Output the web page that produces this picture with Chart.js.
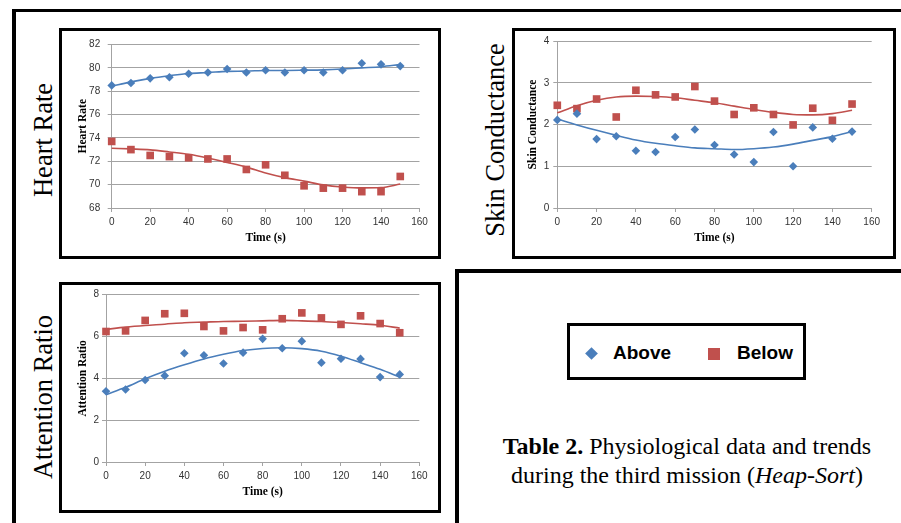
<!DOCTYPE html>
<html>
<head>
<meta charset="utf-8">
<title>Physiological data and trends</title>
<script src="https://cdn.jsdelivr.net/npm/chart.js@4.4.1/dist/chart.umd.min.js"></script>
<style>
body { margin: 0; width: 901px; height: 523px; overflow: hidden; background: #fff; position: relative; font-family: 'Liberation Serif', serif; color: #000; }
.frame { position: absolute; left: 12px; top: 9px; width: 1000px; height: 600px; border-top: 3px solid #000; border-left: 4px solid #000; }
.divider { position: absolute; left: 455px; top: 269px; width: 600px; height: 400px; border-top: 4px solid #000; border-left: 4px solid #000; }
.box { position: absolute; border: 3px solid #000; box-sizing: border-box; background: #fff; }
.box canvas { display: block; }
.side { position: absolute; font-size: 26.5px; line-height: 1; white-space: nowrap; transform: translate(-50%, -50%) rotate(-90deg); }
.legend { position: absolute; left: 567px; top: 323px; width: 239px; height: 57px; border: 3px solid #000; box-sizing: border-box; }
.lab { position: absolute; font-family: 'Liberation Sans', sans-serif; font-weight: bold; font-size: 19px; line-height: 19px; white-space: nowrap; }
.diamond { position: absolute; width: 9px; height: 9px; background: #4a7ebb; transform: rotate(45deg); }
.square { position: absolute; width: 12px; height: 12px; background: #c0504d; }
.caption { position: absolute; left: 687px; top: 432px; transform: translateX(-50%); font-size: 24px; line-height: 29px; text-align: center; white-space: nowrap; }
</style>
</head>
<body>

<div class="frame"></div>
<div class="divider"></div>

<div class="side" style="left:43px; top:140px;">Heart Rate</div>
<div class="side" style="left:495px; top:140px;">Skin Conductance</div>
<div class="side" style="left:43px; top:397px;">Attention Ratio</div>

<div class="box" style="left:59px; top:28px; width:382px; height:231px;"><canvas id="hr-chart" width="376" height="225"></canvas></div>
<div class="box" style="left:512px; top:28px; width:384px; height:231px;"><canvas id="skin-chart" width="378" height="225"></canvas></div>
<div class="box" style="left:59px; top:282px; width:382px; height:231px;"><canvas id="att-chart" width="376" height="225"></canvas></div>

<div class="legend"></div>
<div class="diamond" style="left:587px; top:348.5px;"></div>
<div class="lab" style="left:613px; top:343px;">Above</div>
<div class="square" style="left:707.5px; top:347.5px;"></div>
<div class="lab" style="left:737px; top:343px;">Below</div>

<div class="caption"><b>Table 2.</b> Physiological data and trends<br>during the third mission (<i>Heap-Sort</i>)</div>

<script>
'use strict';

const BLUE = '#4a7ebb';
const RED = '#c0504d';
const GRID = '#a3a3a3';

// time in seconds, one reading every 10 s
const time = [0, 10, 20, 30, 40, 50, 60, 70, 80, 90, 100, 110, 120, 130, 140, 150];

// heart rate
const hrAbove = [78.5, 78.7, 79.1, 79.2, 79.5, 79.6, 79.9, 79.6, 79.8, 79.6, 79.8, 79.6, 79.8, 80.4, 80.3, 80.15];
const hrBelow = [73.7, 73.0, 72.5, 72.4, 72.3, 72.2, 72.2, 71.3, 71.7, 70.8, 69.9, 69.7, 69.7, 69.4, 69.4, 70.7];
const hrAboveTrend = [78.43, 78.8, 79.1, 79.33, 79.52, 79.6, 79.7, 79.72, 79.78, 79.78, 79.8, 79.83, 79.9, 80.0, 80.1, 80.28];
const hrBelowTrend = [73.12, 73.06, 72.98, 72.8, 72.6, 72.28, 71.9, 71.5, 71.0, 70.6, 70.3, 69.98, 69.8, 69.72, 69.75, 70.05];

// skin conductance
const scAbove = [2.11, 2.26, 1.65, 1.72, 1.37, 1.34, 1.70, 1.88, 1.51, 1.28, 1.10, 1.82, 1.00, 1.93, 1.66, 1.83];
const scBelow = [2.46, 2.38, 2.61, 2.18, 2.82, 2.71, 2.66, 2.91, 2.56, 2.24, 2.40, 2.24, 1.99, 2.39, 2.10, 2.49];
const scAboveTrend = [2.13, 1.99, 1.86, 1.74, 1.63, 1.55, 1.49, 1.44, 1.42, 1.40, 1.42, 1.46, 1.53, 1.62, 1.71, 1.83];
const scBelowTrend = [2.28, 2.45, 2.58, 2.66, 2.68, 2.67, 2.64, 2.58, 2.52, 2.44, 2.36, 2.29, 2.24, 2.23, 2.26, 2.34];

// attention ratio
const arAbove = [3.38, 3.47, 3.92, 4.13, 5.20, 5.10, 4.71, 5.23, 5.89, 5.44, 5.78, 4.75, 4.94, 4.93, 4.06, 4.19];
const arBelow = [6.24, 6.27, 6.77, 7.09, 7.11, 6.48, 6.27, 6.43, 6.32, 6.85, 7.13, 6.89, 6.58, 6.99, 6.62, 6.18];
const arAboveTrend = [3.22, 3.57, 3.98, 4.34, 4.65, 4.93, 5.15, 5.33, 5.43, 5.46, 5.42, 5.30, 5.06, 4.75, 4.43, 4.05];
const arBelowTrend = [6.34, 6.45, 6.53, 6.59, 6.66, 6.69, 6.72, 6.73, 6.75, 6.77, 6.75, 6.72, 6.67, 6.61, 6.54, 6.40];


Chart.defaults.font.family = "'Liberation Sans', sans-serif";
Chart.defaults.animation = false;


function points(values) {
    return values.map((v, i) => ({ x: time[i], y: v }));
}

function markers(values, color, style, radius) {
    return {
	data: points(values),
	showLine: false,
	clip: false,
	pointStyle: style,
	pointRadius: radius,
	pointBackgroundColor: color,
	pointBorderColor: color,
	pointBorderWidth: 0,
    };
}

function trend(values, color) {
    return {
	data: points(values),
	showLine: true,
	clip: false,
	pointRadius: 0,
	borderColor: color,
	borderWidth: 1.6,
	cubicInterpolationMode: 'monotone',
	fill: false,
    };
}

// box = fixed sizes so the plot area sits where it does in the figure
function makeConfig(yTitle, y, box, above, below, aboveTrend, belowTrend) {
    const titleFont = { family: "'Liberation Serif', serif", weight: 'bold', size: 11.5 };
    return {
	type: 'scatter',
	data: {
	    datasets: [
		markers(above, BLUE, 'rectRot', 4.3),
		markers(below, RED, 'rect', 5.4),
		trend(aboveTrend, BLUE),
		trend(belowTrend, RED),
	    ],
	},
	options: {
	    responsive: false,
	    devicePixelRatio: 1,
	    events: [],
	    layout: { padding: { top: box.top, right: box.right, left: 0, bottom: 0 } },
	    plugins: {
		legend: { display: false },
		tooltip: { enabled: false },
	    },
	    scales: {
		x: {
		    type: 'linear',
		    min: 0,
		    max: 160,
		    ticks: { stepSize: 20, padding: 4, color: '#333', font: { size: 10 } },
		    grid: { drawOnChartArea: false, tickLength: 4, color: GRID },
		    border: { color: GRID },
		    title: { display: true, text: 'Time (s)', color: '#000', font: titleFont, padding: { top: 0, bottom: 11 } },
		    afterFit: s => { s.height = 48; },
		},
		y: {
		    min: y.min,
		    max: y.max,
		    ticks: { stepSize: y.step, padding: box.tickPad, color: '#333', font: { size: 10 } },
		    grid: { tickLength: 4, color: GRID },
		    border: { color: GRID },
		    title: { display: true, text: yTitle, color: '#000', font: titleFont, padding: { top: box.titlePad, bottom: 0 } },
		    afterFit: s => { s.width = box.yWidth; },
		},
	    },
	},
    };
}


const hrChart = new Chart(document.querySelector('#hr-chart'),
    makeConfig('Heart Rate', { min: 68, max: 82, step: 2 },
	       { top: 10.3, right: 18.5, yWidth: 49.7, tickPad: 7.5, titlePad: 14.1 },
	       hrAbove, hrBelow, hrAboveTrend, hrBelowTrend));

const skinChart = new Chart(document.querySelector('#skin-chart'),
    makeConfig('Skin Conductance', { min: 0, max: 4, step: 1 },
	       { top: 10, right: 21.3, yWidth: 42.3, tickPad: 4, titlePad: 11.1 },
	       scAbove, scBelow, scAboveTrend, scBelowTrend));

const attChart = new Chart(document.querySelector('#att-chart'),
    makeConfig('Attention Ratio', { min: 0, max: 8, step: 2 },
	       { top: 9.7, right: 18.7, yWidth: 44, tickPad: 3, titlePad: 13.8 },
	       arAbove, arBelow, arAboveTrend, arBelowTrend));
</script>
</body>
</html>
